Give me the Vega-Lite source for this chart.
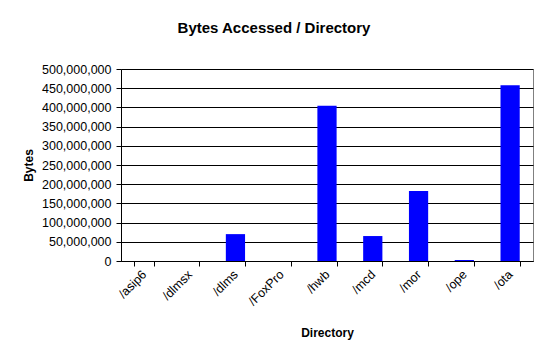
{
  "$schema": "https://vega.github.io/schema/vega-lite/v6.json",
  "width": 412,
  "height": 192,
  "autosize": "none",
  "padding": {"left": 121, "top": 69, "right": 16, "bottom": 100},
  "background": "white",
  "title": {
    "text": "Bytes Accessed / Directory",
    "font": "Liberation Sans",
    "fontSize": 15,
    "fontWeight": "bold",
    "color": "black",
    "anchor": "middle",
    "frame": "group",
    "dx": -53,
    "offset": 27
  },
  "config": {
    "view": {"stroke": "#808080", "strokeWidth": 1},
    "axis": {
      "labelFont": "Liberation Sans",
      "titleFont": "Liberation Sans",
      "labelColor": "black",
      "titleColor": "black",
      "domainColor": "black",
      "tickColor": "black",
      "labelFontSize": 12.5,
      "titleFontSize": 12,
      "titleFontWeight": "bold"
    }
  },
  "data": {
    "values": [
      {"dir": "/asip6", "bytes": 0},
      {"dir": "/dlmsx", "bytes": 0},
      {"dir": "/dlms", "bytes": 70000000},
      {"dir": "/FoxPro", "bytes": 0},
      {"dir": "/hwb", "bytes": 404000000},
      {"dir": "/mcd", "bytes": 65000000},
      {"dir": "/mor", "bytes": 182000000},
      {"dir": "/ope", "bytes": 2600000},
      {"dir": "/ota", "bytes": 458000000}
    ]
  },
  "mark": {"type": "bar", "color": "#0000FF"},
  "encoding": {
    "x": {
      "field": "dir",
      "type": "nominal",
      "sort": null,
      "title": "Directory",
      "scale": {"paddingInner": 0.58, "paddingOuter": 0.29},
      "axis": {
        "labelAngle": -45,
        "labelAlign": "right",
        "labelBaseline": "middle",
        "labelPadding": 6,
        "tickBand": "extent",
        "tickSize": 5,
        "titlePadding": 20,
        "grid": false
      }
    },
    "y": {
      "field": "bytes",
      "type": "quantitative",
      "title": "Bytes",
      "scale": {"domain": [0, 500000000], "nice": false},
      "axis": {
        "values": [0, 50000000, 100000000, 150000000, 200000000, 250000000, 300000000, 350000000, 400000000, 450000000, 500000000],
        "format": ",d",
        "grid": true,
        "gridColor": "black",
        "gridOpacity": 1,
        "tickSize": 5,
        "labelPadding": 5,
        "titlePadding": 6
      }
    }
  }
}
